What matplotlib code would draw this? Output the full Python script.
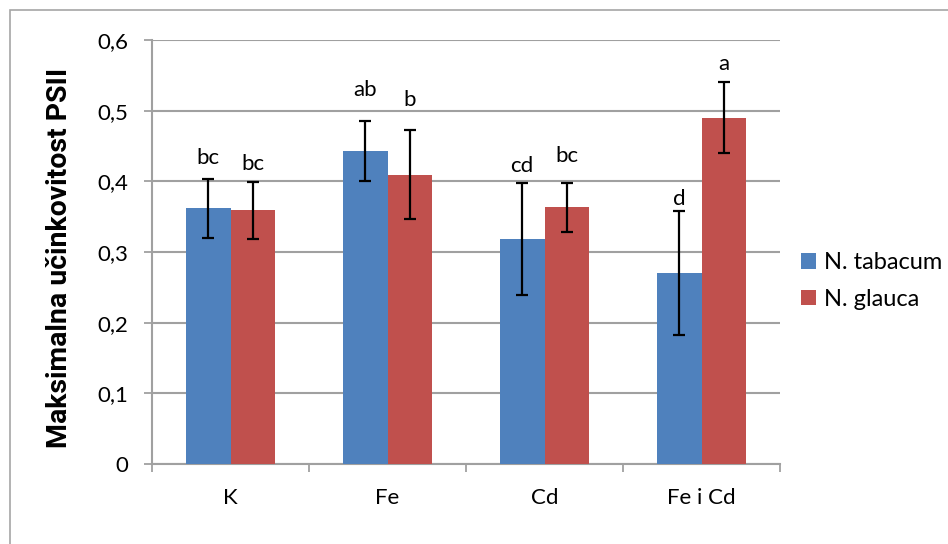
import matplotlib
matplotlib.use("Agg")
import matplotlib.pyplot as plt
import numpy as np
from matplotlib.patches import Rectangle

categories = ["K", "Fe", "Cd", "Fe i Cd"]
series_names = ["N. tabacum", "N. glauca"]
tabacum = [0.362, 0.443, 0.318, 0.270]
tabacum_err = [0.042, 0.043, 0.079, 0.088]
glauca = [0.359, 0.409, 0.363, 0.490]
glauca_err = [0.040, 0.063, 0.034, 0.050]
tabacum_letters = ["bc", "ab", "cd", "d"]
glauca_letters = ["bc", "b", "bc", "a"]
tabacum_letter_y = [0.425, 0.521, 0.413, 0.367]
glauca_letter_y = [0.416, 0.507, 0.427, 0.558]
yticks = [0, 0.1, 0.2, 0.3, 0.4, 0.5, 0.6]
ytick_labels = ["0", "0,1", "0,2", "0,3", "0,4", "0,5", "0,6"]

blue = "#4F81BD"
red = "#C0504D"
grid_c = "#A0A0A0"
font = ["Lato", "DejaVu Sans"]
plt.rcParams["font.family"] = font
fs = 16

fig = plt.figure(figsize=(9.48, 5.44), dpi=100)
fig.patches.append(Rectangle((10 / 948, -0.1), 1.2, 1 - 10 / 544 + 0.1,
                             transform=fig.transFigure, fill=False,
                             edgecolor="#A6A6A6", lw=1.2))
ax = fig.add_axes([152 / 948, 1 - 464 / 544, (780 - 152) / 948, (464 - 40) / 544])

x = np.arange(len(categories))
w = 0.285
eb = dict(ecolor="black", elinewidth=1.6, capsize=4.3, capthick=1.6)
ax.bar(x - w / 2, tabacum, w, color=blue, yerr=tabacum_err, error_kw=eb,
       label=series_names[0], zorder=3)
ax.bar(x + w / 2, glauca, w, color=red, yerr=glauca_err, error_kw=eb,
       label=series_names[1], zorder=3)

for i in range(len(categories)):
    ax.text(x[i] - w / 2, tabacum_letter_y[i], tabacum_letters[i], ha="center",
            va="baseline", fontsize=fs, color="black", zorder=5)
    ax.text(x[i] + w / 2, glauca_letter_y[i], glauca_letters[i], ha="center",
            va="baseline", fontsize=fs, color="black", zorder=5)

ax.set_xlim(-0.5, len(categories) - 0.5)
ax.set_ylim(0, 0.6)
ax.set_yticks(yticks)
ax.set_yticklabels(ytick_labels, fontsize=fs)
ax.set_xticks(x)
ax.set_xticklabels(categories, fontsize=fs)
ax.set_xticks(np.arange(len(categories) + 1) - 0.5, minor=True)
ax.tick_params(axis="x", which="major", length=0, pad=17)
ax.tick_params(axis="x", which="minor", length=6, width=1.3, color=grid_c, direction="out")
ax.tick_params(axis="y", length=6, width=1.3, color=grid_c, direction="out", pad=11)
ax.yaxis.grid(True, color=grid_c, lw=1.5, zorder=0)
ax.set_axisbelow(True)
for s in ["top", "right"]:
    ax.spines[s].set_visible(False)
for s in ["left", "bottom"]:
    ax.spines[s].set_color(grid_c)
    ax.spines[s].set_linewidth(1.5)
ax.set_ylabel("Maksimalna učinkovitost PSII", fontsize=20.5, fontweight="bold",
              family=["Roboto", "DejaVu Sans"])
ax.yaxis.set_label_coords(-0.125, 0.486)

leg = fig.legend(loc="center left", bbox_to_anchor=(801 / 948, 1 - 281 / 544),
                 frameon=False, fontsize=17, handlelength=0.64, handleheight=0.64,
                 handletextpad=0.33, labelspacing=0.65, borderpad=0, borderaxespad=0)

fig.savefig("out.png", dpi=100)
